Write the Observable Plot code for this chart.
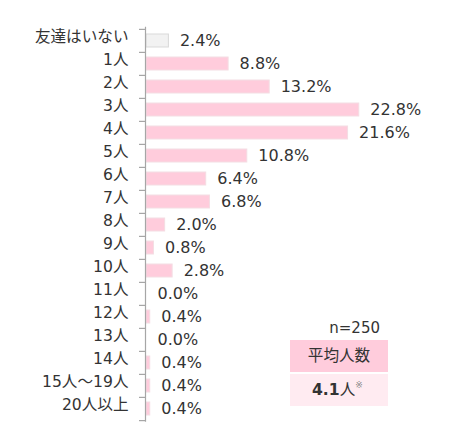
<!DOCTYPE html>
<html>
<head>
<meta charset="utf-8">
<script src="https://cdn.jsdelivr.net/npm/d3@7"></script>
<script src="https://cdn.jsdelivr.net/npm/@observablehq/plot@0.6"></script>
<style>
  html, body { margin: 0; padding: 0; background: #fff; }
  #chart { width: 450px; height: 448px; }
</style>
</head>
<body>
<div id="chart"></div>
<script>
const categories = ["友達はいない","1人","2人","3人","4人","5人","6人","7人","8人","9人","10人","11人","12人","13人","14人","15人～19人","20人以上"];
const values = [2.4, 8.8, 13.2, 22.8, 21.6, 10.8, 6.4, 6.8, 2.0, 0.8, 2.8, 0.0, 0.4, 0.0, 0.4, 0.4, 0.4];
const sampleSize = 250;
const averageLabel = "平均人数";
const averageValue = 4.1;

const data = categories.map((c, i) => ({cat: c, value: values[i], none: i === 0}));

const W = 450, H = 448;
const mTop = 26.7, mBottom = 26.3, mLeft = 146, mRight = 70.7;
const step = (H - mTop - mBottom) / categories.length;

const pink = "#FFCCDC", pinkStroke = "#F4DDE3";
const grey = "#F2F2F2", greyStroke = "#D9D9D9";
const axisColor = "#A6A6A6";
const textColor = "#333333";
const fontFamily = "'DejaVu Sans','Noto Sans CJK JP',sans-serif";

const plot = Plot.plot({
  width: W,
  height: H,
  marginTop: mTop,
  marginBottom: mBottom,
  marginLeft: mLeft,
  marginRight: mRight,
  style: {fontFamily, fontSize: "15px", color: textColor, background: "#fff"},
  x: {domain: [0, 25], axis: null},
  y: {domain: categories, padding: 0, axis: null, label: null},
  marks: [
    Plot.barX(data.filter(d => d.value > 0), {
      y: "cat", x: "value",
      fill: d => d.none ? grey : pink,
      stroke: d => d.none ? greyStroke : pinkStroke,
      strokeWidth: 1,
      insetTop: 5, insetBottom: 5
    }),
    Plot.ruleX([0], {stroke: axisColor, strokeWidth: 1.2, dx: -1}),
    Plot.ruleY(categories, {y: d => d, x1: 0, x2: 0, insetLeft: -6, dx: -1, dy: -step / 2, stroke: axisColor, strokeWidth: 1.2}),
    Plot.ruleY([categories[categories.length - 1]], {y: d => d, x1: 0, x2: 0, insetLeft: -6, dx: -1, dy: step / 2, stroke: axisColor, strokeWidth: 1.2}),
    Plot.axisY({tickSize: 0, tickPadding: 18, dy: -4, fontSize: 15.6, fill: textColor, label: null}),
    Plot.text(data, {
      y: "cat", x: "value",
      text: d => d.value.toFixed(1) + "%",
      textAnchor: "start", dx: 11, fontSize: 16, fill: textColor
    })
  ]
});

document.getElementById("chart").appendChild(plot);

// Annotation box (n and average)
const svg = d3.select(plot);
const g = svg.append("g").attr("font-family", fontFamily).attr("fill", textColor).attr("text-anchor", "start");
g.append("text").attr("x", 380).attr("y", 328).attr("text-anchor", "end").attr("dominant-baseline", "central")
  .attr("font-size", 15).text("n=" + sampleSize);
g.append("rect").attr("x", 290).attr("y", 340).attr("width", 98).attr("height", 32).attr("fill", "#FFCCDC");
g.append("text").attr("x", 339).attr("y", 356).attr("text-anchor", "middle").attr("dominant-baseline", "central")
  .attr("font-size", 15.6).text(averageLabel);
g.append("rect").attr("x", 290).attr("y", 374).attr("width", 98).attr("height", 32).attr("fill", "#FFEBF1");
const t = g.append("text").attr("x", 312).attr("y", 390).attr("text-anchor", "start").attr("dominant-baseline", "central").attr("font-size", 15.6);
t.append("tspan").attr("font-weight", "bold").text(averageValue.toFixed(1));
t.append("tspan").text("人");
t.append("tspan").attr("font-size", 9).attr("dy", -5).attr("fill", "#888").text("※");
</script>
</body>
</html>
